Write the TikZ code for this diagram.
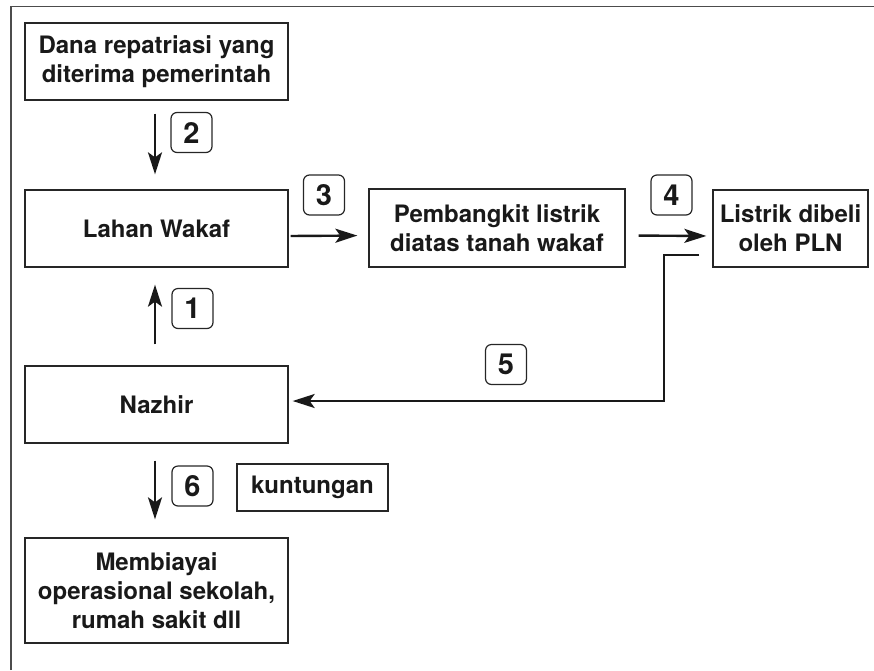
\documentclass[tikz,border=0pt]{standalone}
\usepackage{fontspec}
\setmainfont{TeX Gyre Heros}
\usetikzlibrary{arrows.meta}
\tikzset{
  box/.style={draw=black!85, line width=1.3pt, inner sep=0pt, align=center,
    font=\fontsize{24}{29}\selectfont\bfseries, text=black!90},
  numbox/.style={draw=black!85, line width=1.2pt, rounded corners=6pt, inner sep=0pt,
    minimum width=41pt, minimum height=40pt,
    font=\fontsize{29}{29}\selectfont\bfseries, text=black!90},
  arr/.style={line width=2.4pt, draw=black!90, -{Stealth[length=22pt,width=14pt,inset=5pt]}},
  frame/.style={line width=1.8pt, draw=black!70}
}
\begin{document}
\begin{tikzpicture}[x=1pt,y=-1pt]
\useasboundingbox (0,0) rectangle (874,670);
% frame (top and left)
\draw[frame] (11,670) -- (11,6.5) -- (874,6.5);
% boxes
\node[box, minimum width=263pt, minimum height=77pt] (A) at (156.5,61.5) {Dana repatriasi yang\\diterima pemerintah};
\node[box, minimum width=263pt, minimum height=77pt] (L) at (156.5,228.5) {Lahan Wakaf};
\node[box, minimum width=263pt, minimum height=77pt] (N) at (156.5,404.5) {Nazhir};
\node[box, minimum width=263pt, minimum height=105pt] (M) at (156.5,590.5) {Membiayai\\operasional sekolah,\\rumah sakit dll};
\node[box, minimum width=256pt, minimum height=78pt] (P) at (497,228) {Pembangkit listrik\\diatas tanah wakaf};
\node[box, minimum width=155pt, minimum height=77pt] (Li) at (790.5,228.5) {Listrik dibeli\\oleh PLN};
\node[box, minimum width=151pt, minimum height=47pt] (K) at (312.5,487.5) {kuntungan};
% number labels
\node[numbox] (n2) at (191.5,132.5) {2};
\node[numbox] (n3) at (324,195) {3};
\node[numbox] (n4) at (671.5,195) {4};
\node[numbox] (n1) at (192.5,308.5) {1};
\node[numbox] (n5) at (506,364.5) {5};
\node[numbox] (n6) at (192.5,486) {6};
% arrows
\draw[arr, shorten <=13pt, shorten >=15pt] ([xshift=-1.5pt]A.south) -- ([xshift=-1.5pt]L.north);
\draw[arr, shorten <=21pt, shorten >=17pt] ([xshift=-1.5pt]N.north) -- ([xshift=-1.5pt]L.south);
\draw[arr, shorten <=17pt, shorten >=18pt] ([xshift=-1.5pt]N.south) -- ([xshift=-1.5pt]M.north);
\draw[arr, shorten <=2pt, shorten >=11pt] ([yshift=-7.5pt]L.east) -- ([yshift=-7.5pt]P.west);
\draw[arr, shorten <=13pt, shorten >=6pt] ([yshift=-7.5pt]P.east) -- ([yshift=-7.5pt]Li.west);
\coordinate (s5) at (699,255);
\coordinate (k5) at (664,255);
\coordinate (t5) at ([yshift=3.5pt]N.east);
\draw[arr, shorten >=4pt] (s5) -- (k5) |- (t5);
\end{tikzpicture}
\end{document}
